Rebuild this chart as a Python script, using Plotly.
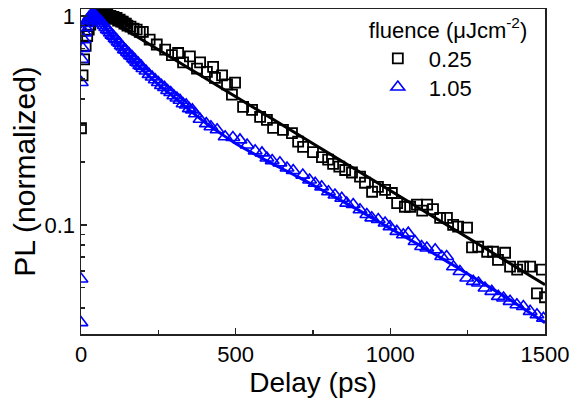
import math
import plotly.graph_objects as go

# ---------------- data ----------------
# fluence 0.25 uJ/cm^2 (black open squares)
black_t = [0, 5, 10, 15, 20, 25, 30, 35, 40, 45,
           50, 55, 60, 65, 70, 75, 80, 85, 90, 95,
           100, 105, 110, 115, 120, 125, 130, 135, 140, 145,
           150, 160, 170, 180, 190, 200, 222, 245, 272, 294,
           314, 330, 352, 375, 385, 407, 427, 433, 456, 472,
           488, 498, 524, 553, 579, 601, 621, 653, 682, 702,
           718, 750, 779, 799, 815, 835, 854, 876, 902, 918,
           941, 960, 983, 1005, 1022, 1047, 1064, 1086, 1103, 1119,
           1138, 1161, 1183, 1203, 1219, 1248, 1264, 1284, 1313, 1332,
           1348, 1371, 1387, 1410, 1429, 1452, 1474, 1490, 1500]
black_y = [0.29, 0.52, 0.62, 0.72, 0.80, 0.86, 0.91, 0.95, 0.97, 0.99,
           1.0, 1.01, 1.02, 1.03, 1.01, 1.02, 1.0, 1.02, 0.99, 1.0,
           0.98, 0.99, 0.97, 0.98, 0.95, 0.96, 0.94, 0.94, 0.92, 0.92,
           0.90, 0.89, 0.87, 0.86, 0.84, 0.84, 0.77, 0.73, 0.69, 0.65,
           0.665, 0.60, 0.64, 0.56, 0.60, 0.54, 0.57, 0.505, 0.52, 0.47,
           0.42, 0.48, 0.367, 0.355, 0.329, 0.318, 0.291, 0.285, 0.275, 0.25,
           0.236, 0.223, 0.211, 0.205, 0.196, 0.19, 0.183, 0.178, 0.170, 0.159,
           0.144, 0.152, 0.147, 0.142, 0.127, 0.122, 0.122, 0.125, 0.117, 0.125,
           0.119, 0.108, 0.108, 0.100, 0.098, 0.097, 0.078, 0.0785, 0.0743, 0.0743,
           0.068, 0.0735, 0.063, 0.061, 0.063, 0.063, 0.047, 0.061, 0.045]

# fluence 1.05 uJ/cm^2 (blue open triangles)
blue_t = [0, 0, 1, 3, 6, 9, 12, 15, 18, 21, 24, 27, 30, 33, 36, 39, 42, 45, 48, 51,
          55, 60, 65, 70, 75, 80, 85, 90, 95, 100,
          105, 110, 115, 120, 125, 130, 135, 140, 145, 150,
          155, 160, 165, 170, 175, 180, 185, 190, 195, 200,
          210, 220, 230, 240, 250, 260, 270, 280, 290, 300,
          310, 320, 330, 340, 350, 360, 370, 385,
          405, 420, 440, 466, 491, 514, 537, 563, 585, 601,
          618, 643, 666, 686, 717, 739, 757, 778, 800, 821,
          843, 859, 880, 902, 924, 940, 961, 983, 999, 1021,
          1042, 1058, 1080, 1101, 1118, 1145, 1166, 1182, 1204, 1225,
          1247, 1268, 1285, 1306, 1328, 1349, 1366, 1387, 1409, 1430,
          1452, 1474, 1495]
blue_y = [0.034, 0.055, 0.48, 0.62, 0.70, 0.77, 0.83, 0.88, 0.92, 0.95,
          0.97, 0.99, 1.0, 1.01, 1.01, 1.02, 1.01, 1.0, 1.0, 0.98,
          0.97, 0.95, 0.94, 0.92, 0.90, 0.88, 0.86, 0.85, 0.83, 0.81,
          0.80, 0.78, 0.77, 0.75, 0.74, 0.72, 0.71, 0.69, 0.685, 0.67,
          0.66, 0.645, 0.64, 0.625, 0.615, 0.60, 0.595, 0.58, 0.575, 0.56,
          0.545, 0.525, 0.51, 0.495, 0.48, 0.465, 0.455, 0.44, 0.43, 0.415,
          0.405, 0.395, 0.38, 0.375, 0.36, 0.355, 0.34, 0.32,
          0.305, 0.295, 0.285, 0.264, 0.262, 0.255, 0.241, 0.226, 0.221, 0.209,
          0.203, 0.198, 0.187, 0.182, 0.173, 0.164, 0.158, 0.152, 0.144, 0.139,
          0.134, 0.127, 0.125, 0.118, 0.112, 0.108, 0.106, 0.102, 0.098, 0.093,
          0.0896, 0.0912, 0.0832, 0.0787, 0.0774, 0.0759, 0.0705, 0.0705, 0.063, 0.0598,
          0.0556, 0.0536, 0.0526, 0.0498, 0.048, 0.0454, 0.0446, 0.043, 0.0414, 0.0406,
          0.0385, 0.0371, 0.0357]

# fitted curves
black_fit_t = [100, 1500]
black_fit_y = [0.941, 0.0517]
blue_fit_t = [45, 60, 80, 100, 125, 150, 175, 200, 250, 300, 350, 400,
              450, 500, 600, 700, 800, 900, 1000, 1100, 1200, 1300, 1400, 1500]
blue_fit_y = [1.0, 0.95, 0.87, 0.80, 0.72, 0.655, 0.60, 0.55, 0.47, 0.41, 0.355, 0.31,
              0.275, 0.245, 0.203, 0.170, 0.141, 0.117, 0.096, 0.079, 0.0645, 0.0525, 0.0425, 0.034]

series_names = ["0.25", "1.05"]
legend_title = "fluence (\u03bcJcm<sup>-2</sup>)"

x_tick_vals = [0, 500, 1000, 1500]
x_tick_text = ["0", "500", "1000", "1500"]
x_minor_vals = [250, 750, 1250]
y_tick_vals = [0.1, 1]
y_tick_text = ["0.1", "1"]
y_minor_vals = [0.03, 0.04, 0.05, 0.06, 0.07, 0.08, 0.09,
                0.2, 0.3, 0.4, 0.5, 0.6, 0.7, 0.8, 0.9]

FONT = "Liberation Sans, Arial, Helvetica, sans-serif"
BLUE = "#0000ff"
AXC = "#222222"

fig = go.Figure()
fig.add_trace(go.Scatter(
    x=black_t, y=black_y, mode="markers", name=series_names[0], legend="legend",
    marker=dict(symbol="square-open", size=10, color="black", line=dict(width=1.8))))
fig.add_trace(go.Scatter(
    x=blue_t, y=blue_y, mode="markers", name=series_names[1], legend="legend2",
    marker=dict(symbol="triangle-up-open", size=12, color=BLUE, line=dict(width=1.6))))
fig.add_trace(go.Scatter(
    x=black_fit_t, y=black_fit_y, mode="lines", showlegend=False,
    line=dict(color="black", width=3)))
fig.add_trace(go.Scatter(
    x=blue_fit_t, y=blue_fit_y, mode="lines", showlegend=False,
    line=dict(color=BLUE, width=3, shape="spline")))

legend_common = dict(xanchor="left", yanchor="top", bgcolor="rgba(0,0,0,0)",
                     borderwidth=0, font=dict(size=22), itemwidth=52)

fig.update_layout(
    width=572, height=403,
    margin=dict(l=81, r=27, t=9, b=69, autoexpand=False),
    paper_bgcolor="white", plot_bgcolor="white",
    font=dict(family=FONT, color="black"),
    hovermode=False,
    xaxis=dict(
        range=[0, 1500], tickmode="array", tickvals=x_tick_vals, ticktext=x_tick_text,
        ticks="inside", ticklen=6, tickwidth=1.5, tickcolor=AXC,
        showline=True, linecolor=AXC, linewidth=1.5, mirror=True,
        showgrid=False, zeroline=False, tickfont=dict(size=22),
        title=dict(text="Delay (ps)", font=dict(size=28), standoff=4),
        minor=dict(tickmode="array", tickvals=x_minor_vals, ticks="inside",
                   ticklen=4, tickwidth=1.5, tickcolor=AXC, showgrid=False),
    ),
    yaxis=dict(
        type="log", range=[math.log10(0.03), math.log10(1.08)],
        tickmode="array", tickvals=y_tick_vals, ticktext=y_tick_text,
        ticks="inside", ticklen=6, tickwidth=1.5, tickcolor=AXC,
        showline=True, linecolor=AXC, linewidth=1.5, mirror=True,
        showgrid=False, zeroline=False, tickfont=dict(size=22),
        title=dict(text="PL (normalized)", font=dict(size=30), standoff=0),
        minor=dict(tickmode="array", tickvals=y_minor_vals, ticks="inside",
                   ticklen=4, tickwidth=1.5, tickcolor=AXC, showgrid=False),
    ),
    legend=dict(x=0.616, y=1.0,
                title=dict(text=legend_title, font=dict(size=22)), **legend_common),
    legend2=dict(x=0.616, y=0.824, **legend_common),
)

fig.write_html("out.html",
               config={"displayModeBar": False, "staticPlot": True},
               post_script="document.body.style.margin='0';document.body.style.overflow='hidden';")
